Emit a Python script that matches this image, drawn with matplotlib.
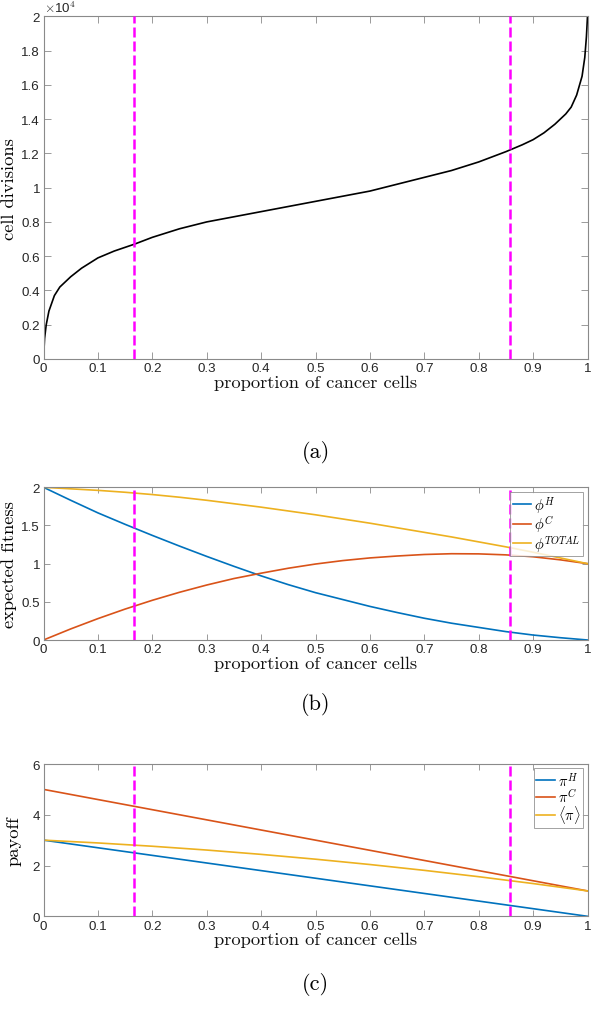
import matplotlib
matplotlib.use("Agg")
import matplotlib.pyplot as plt
from matplotlib.ticker import FuncFormatter, MultipleLocator
import numpy as np

# ---------------- data ----------------
thresholds = [0.1667, 0.857]

# panel (a): cell divisions vs proportion of cancer cells
prop_a = [0, 0.002, 0.005, 0.01, 0.02, 0.03, 0.05, 0.07, 0.1, 0.13, 0.167, 0.2,
          0.25, 0.3, 0.35, 0.4, 0.45, 0.5, 0.55, 0.6, 0.65, 0.7, 0.75, 0.8,
          0.85, 0.88, 0.9, 0.92, 0.94, 0.96, 0.97, 0.98, 0.99, 0.995, 0.998, 1.0]
divisions = [0, 1200, 2000, 2800, 3700, 4200, 4800, 5300, 5900, 6300, 6700, 7100,
             7600, 8000, 8300, 8600, 8900, 9200, 9500, 9800, 10200, 10600, 11000, 11500,
             12100, 12500, 12800, 13200, 13700, 14300, 14700, 15400, 16500, 17600, 18800, 20000]

# panel (b): expected fitness
prop_b = [0, 0.05, 0.1, 0.15, 0.2, 0.25, 0.3, 0.35, 0.4, 0.45, 0.5,
          0.55, 0.6, 0.65, 0.7, 0.75, 0.8, 0.85, 0.9, 0.95, 1.0]
phi_H = [2.00, 1.83, 1.665, 1.515, 1.37, 1.23, 1.095, 0.965, 0.84, 0.725, 0.62,
         0.53, 0.44, 0.36, 0.285, 0.22, 0.165, 0.11, 0.065, 0.03, 0.0]
phi_C = [0.0, 0.145, 0.28, 0.405, 0.52, 0.625, 0.72, 0.805, 0.875, 0.94, 0.995,
         1.04, 1.075, 1.10, 1.12, 1.13, 1.128, 1.115, 1.09, 1.05, 1.0]
phi_T = [2.00, 1.98, 1.96, 1.935, 1.905, 1.87, 1.83, 1.785, 1.74, 1.69, 1.64,
         1.585, 1.53, 1.47, 1.41, 1.35, 1.285, 1.22, 1.15, 1.075, 1.0]

# panel (c): payoff
prop_c = [0, 0.1, 0.2, 0.3, 0.4, 0.5, 0.6, 0.7, 0.8, 0.9, 1.0]
pi_H = [3.0, 2.7, 2.4, 2.1, 1.8, 1.5, 1.2, 0.9, 0.6, 0.3, 0.0]
pi_C = [5.0, 4.6, 4.2, 3.8, 3.4, 3.0, 2.6, 2.2, 1.8, 1.4, 1.0]
pi_avg = [3.0, 2.89, 2.76, 2.61, 2.44, 2.25, 2.04, 1.81, 1.56, 1.29, 1.0]

# ---------------- style ----------------
plt.rcParams['mathtext.fontset'] = 'cm'
C_BLUE, C_RED, C_YEL = '#0072BD', '#D95319', '#EDB120'
SPINE = '#8a8a8a'
TICKC = '#262626'
TICKFONT = 'Liberation Sans'
LABFONT = 'cmr10'
TS = 9.6
LS = 13.3

fig = plt.figure(figsize=(5.91, 10.20), dpi=100)
L = 43.5 / 591
W = (587.5 - 43.5) / 591
axA = fig.add_axes([L, 1 - 360 / 1020, W, 342.7 / 1020])
axB = fig.add_axes([L, 1 - 641 / 1020, W, 152.7 / 1020])
axC = fig.add_axes([L, 1 - 917.3 / 1020, W, 152.3 / 1020])


def style(ax, ylim, ystep, fmt=None):
    ax.set_xlim(0, 1)
    ax.set_ylim(*ylim)
    ax.xaxis.set_major_locator(MultipleLocator(0.1))
    ax.yaxis.set_major_locator(MultipleLocator(ystep))
    ax.xaxis.set_major_formatter(FuncFormatter(lambda v, p: '%g' % round(v, 3)))
    if fmt is None:
        ax.yaxis.set_major_formatter(FuncFormatter(lambda v, p: '%g' % round(v, 3)))
    else:
        ax.yaxis.set_major_formatter(FuncFormatter(fmt))
    for s in ax.spines.values():
        s.set_color(SPINE)
        s.set_linewidth(0.8)
    ax.tick_params(direction='in', top=True, right=True, length=4, width=0.6,
                   color=SPINE, labelcolor=TICKC, labelsize=TS, pad=2.5)
    for lab in ax.get_xticklabels() + ax.get_yticklabels():
        lab.set_fontfamily(TICKFONT)
    ax.set_xlabel('proportion of cancer cells', fontfamily=LABFONT, fontsize=LS,
                  labelpad=0, color='#111111')
    for t in thresholds:
        ax.axvline(t, color='#ff00ff', lw=1.8, dashes=(4, 1.6), zorder=4)


def legend(ax):
    leg = ax.legend(loc='upper right', fontsize=10.5, frameon=True, fancybox=False,
                    handlelength=1.25, handletextpad=0.25, borderpad=0.15,
                    labelspacing=-0.1, borderaxespad=0.3)
    leg.get_frame().set_edgecolor(SPINE)
    leg.get_frame().set_linewidth(0.7)
    leg.set_zorder(5)


# panel (a)
axA.plot(prop_a, divisions, color='black', lw=1.2)
style(axA, (0, 20000), 2000, fmt=lambda v, p: '%g' % round(v / 1e4, 3))
axA.tick_params(length=5)
axA.set_ylabel('cell divisions', fontfamily=LABFONT, fontsize=LS, labelpad=3)
axA.text(0.0, 1.003, r'$\times$10$^4$', transform=axA.transAxes, ha='left', va='bottom',
         fontsize=TS, color=TICKC, fontfamily=TICKFONT)

# panel (b)
axB.plot(prop_b, phi_H, color=C_BLUE, lw=1.2, label=r'$\phi^H$')
axB.plot(prop_b, phi_C, color=C_RED, lw=1.2, label=r'$\phi^C$')
axB.plot(prop_b, phi_T, color=C_YEL, lw=1.2, label=r'$\phi^{TOTAL}$')
style(axB, (0, 2), 0.5)
axB.set_ylabel('expected fitness', fontfamily=LABFONT, fontsize=LS, labelpad=3)
legend(axB)

# panel (c)
axC.plot(prop_c, pi_H, color=C_BLUE, lw=1.2, label=r'$\pi^H$')
axC.plot(prop_c, pi_C, color=C_RED, lw=1.2, label=r'$\pi^C$')
axC.plot(prop_c, pi_avg, color=C_YEL, lw=1.2, label=r'$\langle\pi\rangle$')
style(axC, (0, 6), 2)
axC.set_ylabel('payoff', fontfamily=LABFONT, fontsize=LS, labelpad=8)
legend(axC)

# sub-figure captions
cx = L + W / 2
for lab, ypx in [('(a)', 453), ('(b)', 705), ('(c)', 985)]:
    fig.text(cx, 1 - ypx / 1020, lab, ha='center', va='center', fontfamily=LABFONT,
             fontsize=16)

fig.savefig('out.png', dpi=100)
